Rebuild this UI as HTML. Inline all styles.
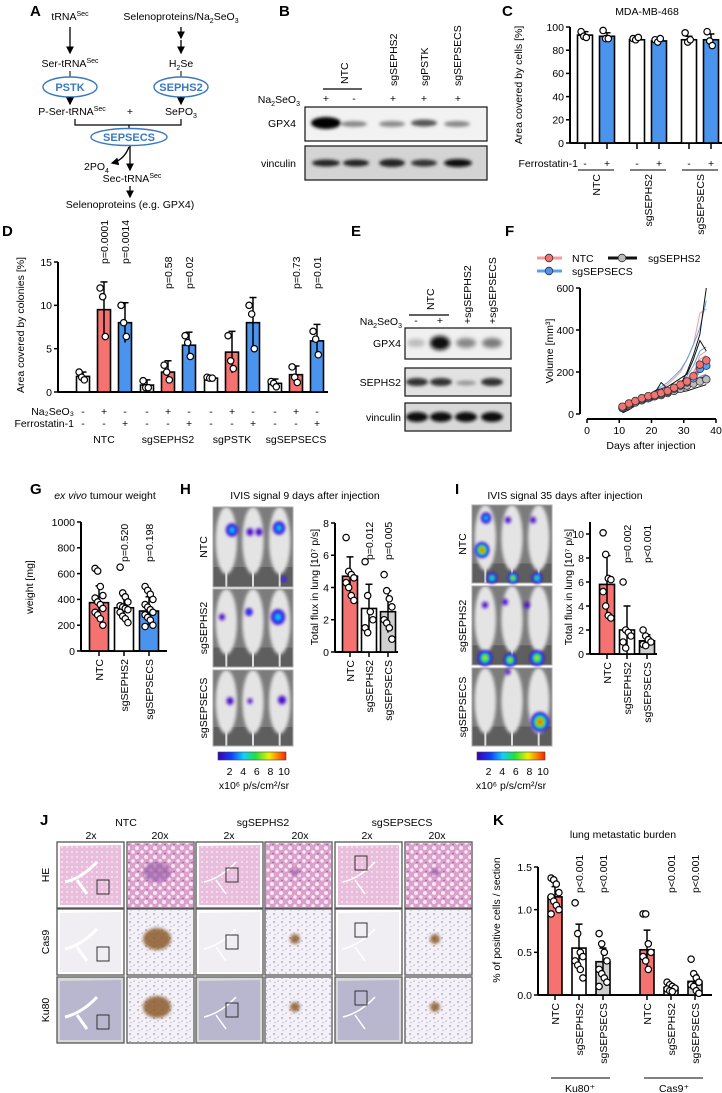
<!DOCTYPE html>
<html><head><meta charset="utf-8">
<style>
body{margin:0;background:#fff}
svg{display:block;font-family:"Liberation Sans",Arial,sans-serif}
.l{font-weight:bold;font-size:15px}
.t{font-size:10.5px}
</style></head><body>
<svg id="fig" xmlns="http://www.w3.org/2000/svg" width="722" height="1093" viewBox="0 0 722 1093">
<defs>
 <marker id="ah" markerWidth="6" markerHeight="6" refX="5" refY="3" orient="auto"><path d="M0,0 L6,3 L0,6 z" fill="#000"/></marker>
 <filter id="b1" x="-50%" y="-50%" width="200%" height="200%"><feGaussianBlur stdDeviation="1.6"/></filter>
 <filter id="b2" x="-50%" y="-50%" width="200%" height="200%"><feGaussianBlur stdDeviation="2.2"/></filter>
 <linearGradient id="cb" x1="0" x2="1" y1="0" y2="0">
  <stop offset="0" stop-color="#3a00b0"/><stop offset="0.2" stop-color="#1040ff"/><stop offset="0.38" stop-color="#10d0ff"/><stop offset="0.55" stop-color="#20e040"/><stop offset="0.75" stop-color="#f0f000"/><stop offset="1" stop-color="#ff2000"/>
 </linearGradient>
 <pattern id="he20" width="9" height="9" patternUnits="userSpaceOnUse"><rect width="9" height="9" fill="#dca0cc"/><circle cx="2" cy="2" r="2" fill="#f6e8f2"/><circle cx="7" cy="6" r="1.7" fill="#f8eef5"/><circle cx="3" cy="7.5" r="0.8" fill="#a05a9c"/></pattern>
 <pattern id="he2" width="5" height="5" patternUnits="userSpaceOnUse"><rect width="5" height="5" fill="#e9bedc"/><circle cx="2" cy="2" r="1" fill="#f5e4ef"/></pattern>
 <pattern id="ihc20" width="8" height="8" patternUnits="userSpaceOnUse"><rect width="8" height="8" fill="#f4f2f7"/><circle cx="2" cy="2" r="0.9" fill="#9a94c4"/><circle cx="6" cy="5" r="0.8" fill="#b4aed4"/><circle cx="3" cy="6.5" r="0.7" fill="#c0bcd8"/></pattern>
</defs>

<!-- Panel A -->
<g class="t">
 <text x="30" y="16" class="l">A</text>
 <text x="70" y="20" text-anchor="middle">tRNA<tspan font-size="7" dy="-4">Sec</tspan></text>
 <text x="181" y="20" text-anchor="middle">Selenoproteins/Na<tspan font-size="7" dy="3">2</tspan><tspan dy="-3">SeO</tspan><tspan font-size="7" dy="3">3</tspan></text>
 <line x1="70" y1="27" x2="70" y2="53" stroke="#000" stroke-width="1.3" marker-end="url(#ah)"/>
 <line x1="181" y1="27" x2="181" y2="38" stroke="#000" stroke-width="1.3" marker-end="url(#ah)"/>
 <line x1="181" y1="40" x2="181" y2="53" stroke="#000" stroke-width="1.3" marker-end="url(#ah)"/>
 <text x="70" y="67" text-anchor="middle">Ser-tRNA<tspan font-size="7" dy="-4">Sec</tspan></text>
 <text x="181" y="67" text-anchor="middle">H<tspan font-size="7" dy="3">2</tspan><tspan dy="-3">Se</tspan></text>
 <line x1="70" y1="71" x2="70" y2="77" stroke="#000"/><line x1="181" y1="71" x2="181" y2="77" stroke="#000"/>
 <ellipse cx="70" cy="87" rx="27" ry="10" fill="#fff" stroke="#3a78c0" stroke-width="1.4"/>
 <text x="70" y="91" text-anchor="middle" font-weight="bold" fill="#3a78c0" font-size="11">PSTK</text>
 <ellipse cx="181" cy="87" rx="27" ry="10" fill="#fff" stroke="#3a78c0" stroke-width="1.4"/>
 <text x="181" y="91" text-anchor="middle" font-weight="bold" fill="#3a78c0" font-size="11">SEPHS2</text>
 <line x1="70" y1="97" x2="70" y2="104" stroke="#000" stroke-width="1.3" marker-end="url(#ah)"/>
 <line x1="181" y1="97" x2="181" y2="104" stroke="#000" stroke-width="1.3" marker-end="url(#ah)"/>
 <text x="72" y="115" text-anchor="middle">P-Ser-tRNA<tspan font-size="7" dy="-4">Sec</tspan></text>
 <text x="130" y="115" text-anchor="middle">+</text>
 <text x="181" y="115" text-anchor="middle">SePO<tspan font-size="7" dy="3">3</tspan></text>
 <path d="M75,119 V125 H181 V119 M129,125 V130" fill="none" stroke="#000" stroke-width="1.2"/>
 <ellipse cx="129" cy="137" rx="38" ry="8.5" fill="#fff" stroke="#3a78c0" stroke-width="1.4"/>
 <text x="129" y="141" text-anchor="middle" font-weight="bold" fill="#3a78c0" font-size="11">SEPSECS</text>
 <line x1="130" y1="146" x2="130" y2="170" stroke="#000" stroke-width="1.3" marker-end="url(#ah)"/>
 <path d="M129,147 Q124,160 112,163" fill="none" stroke="#000" stroke-width="1.3" marker-end="url(#ah)"/>
 <text x="84" y="170">2PO<tspan font-size="7" dy="3">4</tspan></text>
 <text x="132" y="182" text-anchor="middle">Sec-tRNA<tspan font-size="7" dy="-4">Sec</tspan></text>
 <line x1="130" y1="186" x2="130" y2="197" stroke="#000" stroke-width="1.3" marker-end="url(#ah)"/>
 <text x="130" y="208" text-anchor="middle">Selenoproteins (e.g. GPX4)</text>
</g>

<!-- Panel B -->
<g class="t">
 <text x="279" y="16" class="l">B</text>
 <text transform="translate(348,84) rotate(-90)">NTC</text>
 <line x1="323" y1="89" x2="362" y2="89" stroke="#000" stroke-width="1.2"/>
 <text transform="translate(397,86) rotate(-90)">sgSEPHS2</text>
 <text transform="translate(428,86) rotate(-90)">sgPSTK</text>
 <text transform="translate(461,86) rotate(-90)">sgSEPSECS</text>
 <text x="300" y="103" text-anchor="end">Na<tspan font-size="7" dy="3">2</tspan><tspan dy="-3">SeO</tspan><tspan font-size="7" dy="3">3</tspan></text>
 <text x="326" y="102" text-anchor="middle">+</text><text x="354" y="102" text-anchor="middle">-</text><text x="393" y="102" text-anchor="middle">+</text><text x="424" y="102" text-anchor="middle">+</text><text x="458" y="102" text-anchor="middle">+</text>
 <rect x="305" y="107" width="182" height="34" fill="#f2f2f2" stroke="#222" stroke-width="1.3"/>
 <g filter="url(#b1)"><ellipse cx="326" cy="123" rx="15" ry="6" fill="#000"/><ellipse cx="354" cy="124" rx="13" ry="3" fill="#888"/><ellipse cx="392" cy="124" rx="13" ry="3" fill="#8a8a8a"/><ellipse cx="424" cy="123" rx="13" ry="3.5" fill="#555"/><ellipse cx="457" cy="124" rx="13" ry="3" fill="#888"/></g>
 <text x="296" y="127" text-anchor="end">GPX4</text>
 <rect x="305" y="146" width="182" height="34" fill="#d4d4d4" stroke="#222" stroke-width="1.3"/>
 <g filter="url(#b1)"><ellipse cx="326" cy="163" rx="14" ry="3.5" fill="#222"/><ellipse cx="356" cy="163" rx="13" ry="3.5" fill="#222"/><ellipse cx="392" cy="163" rx="13" ry="4" fill="#222"/><ellipse cx="424" cy="163" rx="13" ry="3.5" fill="#333"/><ellipse cx="458" cy="163" rx="14" ry="4" fill="#111"/></g>
 <text x="296" y="167" text-anchor="end">vinculin</text>
</g>

<!-- Panel E -->
<g class="t">
 <text x="351" y="236" class="l">E</text>
 <text transform="translate(434,310) rotate(-90)">NTC</text>
 <line x1="409" y1="315" x2="449" y2="315" stroke="#000" stroke-width="1.2"/>
 <text transform="translate(471,324) rotate(-90)">+sgSEPHS2</text>
 <text transform="translate(496,324) rotate(-90)">+sgSEPSECS</text>
 <text x="402" y="325" text-anchor="end">Na<tspan font-size="7" dy="3">2</tspan><tspan dy="-3">SeO</tspan><tspan font-size="7" dy="3">3</tspan></text>
 <text x="416" y="324" text-anchor="middle">-</text><text x="440" y="324" text-anchor="middle">+</text>
 <rect x="405" y="328" width="106" height="31" fill="#f0f0f0" stroke="#222" stroke-width="1.3"/>
 <g filter="url(#b2)"><ellipse cx="416" cy="343" rx="9" ry="4" fill="#bbb"/><ellipse cx="440" cy="343" rx="10" ry="7" fill="#111"/><ellipse cx="466" cy="343" rx="10" ry="5" fill="#888"/><ellipse cx="492" cy="343" rx="10" ry="5" fill="#7a7a7a"/></g>
 <text x="401" y="347" text-anchor="end">GPX4</text>
 <rect x="405" y="368" width="106" height="28" fill="#e2e2e2" stroke="#222" stroke-width="1.3"/>
 <g filter="url(#b1)"><ellipse cx="417" cy="382" rx="11" ry="4" fill="#333"/><ellipse cx="441" cy="382" rx="11" ry="4" fill="#333"/><ellipse cx="466" cy="383" rx="10" ry="2.5" fill="#999"/><ellipse cx="492" cy="382" rx="11" ry="4" fill="#333"/></g>
 <text x="401" y="386" text-anchor="end">SEPHS2</text>
 <rect x="405" y="403" width="106" height="28" fill="#d8d8d8" stroke="#222" stroke-width="1.3"/>
 <g filter="url(#b1)"><ellipse cx="417" cy="417" rx="11" ry="5" fill="#111"/><ellipse cx="441" cy="417" rx="11" ry="5" fill="#111"/><ellipse cx="466" cy="417" rx="11" ry="5" fill="#111"/><ellipse cx="492" cy="417" rx="11" ry="5" fill="#111"/></g>
 <text x="401" y="421" text-anchor="end">vinculin</text>
</g>

<!-- Panel labels / titles -->
<g class="t">
 <text x="502" y="16" class="l">C</text>
 <text x="647" y="15" text-anchor="middle">MDA-MB-468</text>
 <text x="2" y="236" class="l">D</text>
 <text x="505" y="236" class="l">F</text>
 <text x="30" y="494" class="l">G</text>
 <text x="105" y="499" text-anchor="middle"><tspan font-style="italic">ex vivo</tspan> tumour weight</text>
 <text x="180" y="494" class="l">H</text>
 <text x="305" y="499" text-anchor="middle">IVIS signal 9 days after injection</text>
 <text x="455" y="494" class="l">I</text>
 <text x="565" y="499" text-anchor="middle">IVIS signal 35 days after injection</text>
 <text x="40" y="825" class="l">J</text>
 <text x="493" y="825" class="l">K</text>
 <text x="623" y="838" text-anchor="middle">lung metastatic burden</text>
</g>

<!-- Panel J histology -->
<g id="histo" class="t">
 <text x="126" y="826" text-anchor="middle">NTC</text>
 <text x="263" y="826" text-anchor="middle">sgSEPHS2</text>
 <text x="402" y="826" text-anchor="middle">sgSEPSECS</text>
 <text x="91" y="839" text-anchor="middle">2x</text><text x="160" y="839" text-anchor="middle">20x</text>
 <text x="229" y="839" text-anchor="middle">2x</text><text x="300" y="839" text-anchor="middle">20x</text>
 <text x="367" y="839" text-anchor="middle">2x</text><text x="437" y="839" text-anchor="middle">20x</text>
 <text transform="translate(49,875) rotate(-90)" text-anchor="middle">HE</text>
 <text transform="translate(49,942) rotate(-90)" text-anchor="middle">Cas9</text>
 <text transform="translate(49,1010) rotate(-90)" text-anchor="middle">Ku80</text>
</g>

<g id="charts"></g>
</svg>
<script>
// ---------- chart data ----------
const cCats = ['NTC','sgSEPHS2','sgSEPSECS'];
const cVals = [93, 92, 89, 88, 89, 89];
const cErr = [3, 3, 1, 1, 3, 5];
const cPts = [[96,92,91],[97,90,90],[90,89,91],[89,87,90],[95,87,89],[96,88,84]];
const cTicks = [0, 20, 40, 60, 80, 100];

const dCats = ['NTC','sgSEPHS2','sgPSTK','sgSEPSECS'];
const dVals = [1.8, 9.5, 8.0, 0.8, 2.3, 5.4, 1.6, 4.6, 8.0, 1.0, 2.0, 5.9];
const dErr = [0.5, 3.2, 2.3, 0.6, 1.3, 1.5, 0.1, 2.4, 2.9, 0.5, 1.0, 1.9];
const dPts = [[2.3,1.7,1.4],[12,11,6.4],[10,8,6.4],[1.3,0.5,0.5],[3.1,2.3,1.4],[6.5,5.7,4.1],[1.7,1.6,1.6],[6.5,3.6,2.7],[10,9,5],[1.2,1.0,0.6],[2.9,1.7,1.1],[7.0,6.1,4.3]];
const dTicks = [0, 5, 10, 15];
const dPvals = ['', 'p=0.0001', 'p=0.0014', '', 'p=0.58', 'p=0.02', '', '', '', '', 'p=0.73', 'p=0.01'];

const fDays = [11,13,15,17,19,21,23,25,27,29,31,33,35,37];
const fNtcMean = [35,50,62,75,85,90,100,110,125,140,155,180,235,255];
const fSephs2Mean = [28,40,55,65,75,85,90,100,110,120,135,145,155,165];
const fSepsecsMean = [30,45,55,70,80,85,95,105,120,135,150,170,215,230];
const fNtcLines = [[20,40,60,80,90,110,120,140,170,200,260,330,480,500],[30,45,55,70,80,90,100,110,120,140,160,190,280,300],[40,55,70,80,95,100,110,120,130,150,170,200,260,280],[25,40,50,65,75,80,85,95,105,115,130,150,180,190],[35,50,65,75,85,90,100,110,120,135,150,170,210,230]];
const fSephs2Lines = [[10,30,50,60,80,100,150,120,130,140,200,280,380,600],[20,35,45,60,70,80,90,100,110,120,130,140,150,160],[15,25,40,55,60,70,80,90,100,105,110,120,130,140],[25,45,55,70,90,110,120,130,150,170,190,260,350,300],[5,20,40,60,75,90,100,110,120,130,140,150,170,180]];
const fSepsecsLines = [[30,45,55,70,90,110,130,150,180,210,260,330,410,540],[20,35,50,60,75,85,95,105,115,125,135,150,175,190],[25,40,50,60,70,80,95,100,110,120,140,160,200,220],[35,50,65,75,85,95,110,120,130,150,180,230,300,320]];
const fYTicks = [0, 200, 400, 600];
const fXTicks = [0, 10, 20, 30, 40];

const gCats = ['NTC','sgSEPHS2','sgSEPSECS'];
const gVals = [375, 335, 310];
const gErr = [130, 90, 110];
const gPts = [[640,620,500,430,410,380,360,330,300,280,250,200],[650,450,420,380,350,340,330,320,300,270,250,220],[500,470,440,400,360,340,320,300,280,260,240,200,190]];
const gTicks = [0, 200, 400, 600, 800, 1000];
const gPvals = ['', 'p=0.520', 'p=0.198'];

const hCats = ['NTC','sgSEPHS2','sgSEPSECS'];
const hVals = [4.7, 2.7, 2.5];
const hErr = [1.2, 1.5, 1.3];
const hPts = [[7.1,5.0,4.8,4.6,4.3,4.0,3.5,3.2],[5.6,3.5,2.5,2.0,1.5,1.2],[4.8,3.8,3.3,2.8,2.0,1.8,1.5,0.8]];
const hTicks = [0, 2, 4, 6, 8];
const hPvals = ['', 'p=0.012', 'p=0.005'];

const iCats = ['NTC','sgSEPHS2','sgSEPSECS'];
const iVals = [5.8, 2.0, 1.1];
const iErr = [2.4, 2.0, 0.5];
const iPts = [[10.1,8.3,6.3,6.2,5.2,4.0,3.2,3.0],[6.0,2.0,1.8,1.5,1.0,0.5],[2.0,1.5,1.2,1.0,0.8,0.7]];
const iTicks = [0, 2, 4, 6, 8, 10];
const iPvals = ['', 'p=0.002', 'p<0.001'];

const kCats = ['NTC','sgSEPHS2','sgSEPSECS','NTC','sgSEPHS2','sgSEPSECS'];
const kVals = [1.15, 0.55, 0.39, 0.53, 0.09, 0.16];
const kErr = [0.12, 0.28, 0.16, 0.23, 0.03, 0.08];
const kPts = [[1.37,1.35,1.3,1.2,1.15,1.1,1.05,1.0,0.95],[1.08,0.72,0.5,0.45,0.4,0.35,0.3,0.2],[0.72,0.6,0.5,0.4,0.3,0.25,0.2,0.15,0.1],[0.95,0.95,0.6,0.5,0.45,0.4,0.3],[0.15,0.12,0.1,0.08,0.07,0.05,0.04],[0.42,0.25,0.2,0.15,0.12,0.1,0.05,0.02]];
const kTicks = [0, 0.5, 1.0, 1.5];
const kTickLabels = ['0.0','0.5','1.0','1.5'];
const kPvals = ['', 'p<0.001', 'p<0.001', '', 'p<0.001', 'p<0.001'];

// ---------- helpers ----------
const NS = 'http://www.w3.org/2000/svg';
const root = document.getElementById('charts');
const RED = '#f47370', BLUE = '#4a94ee', GREY = '#cfcfcf', WHITE = '#ffffff';
function mk(tag, attrs, name, parent) {
  const el = document.createElementNS(NS, tag);
  for (const k in attrs) el.setAttribute(k, attrs[k]);
  
  
  (parent || root).appendChild(el);
  return el;
}
function txt(x, y, s, anchor, name, rot, size) {
  const a = {x: 0, y: 0, 'font-size': size || 10.5, 'text-anchor': anchor || 'start'};
  a.transform = 'translate(' + x + ',' + y + ')' + (rot ? ' rotate(' + rot + ')' : '');
  const el = mk('text', a, name);
  el.textContent = s;
  return el;
}
function lin(d0, d1, r0, r1) { return v => r0 + (v - d0) * (r1 - r0) / (d1 - d0); }
function yAxis(x, ys, ticks, labels, name) {
  mk('line', {x1: x, x2: x, y1: ys(ticks[0]), y2: ys(ticks[ticks.length - 1]), stroke: '#000', 'stroke-width': 2}, name + '-line');
  ticks.forEach((t, i) => {
    mk('line', {x1: x - 4, x2: x, y1: ys(t), y2: ys(t), stroke: '#000', 'stroke-width': 1.5}, name + '-tick');
    txt(x - 6, ys(t) + 3.8, labels ? labels[i] : String(t), 'end', name + '-label');
  });
}
function bars(cx, vals, errs, pts, colors, w, ys, name) {
  vals.forEach((v, i) => {
    const x = cx(i);
    mk('rect', {x: x - w / 2, y: ys(v), width: w, height: ys(0) - ys(v), fill: colors[i % colors.length], stroke: '#000', 'stroke-width': 1.6}, name + '-bar');
    const top = ys(v + errs[i]), bot = ys(Math.max(0, v - errs[i]));
    mk('line', {x1: x, x2: x, y1: top, y2: bot, stroke: '#000', 'stroke-width': 1.5}, name + '-error-bar');
    mk('line', {x1: x - 3.5, x2: x + 3.5, y1: top, y2: top, stroke: '#000', 'stroke-width': 1.5}, name + '-error-cap');
    pts[i].forEach((p, j) => {
      const dx = ((j % 4) - 1.5) * 2.6;
      mk('circle', {cx: x + dx, cy: ys(p), r: 3.2, fill: '#fff', stroke: '#000', 'stroke-width': 1.2}, name + '-point');
    });
  });
}

// ---------- Panel C ----------
const cY = lin(0, 100, 143, 27);
const cX = i => 585 + Math.floor(i / 2) * 52 + (i % 2) * 22;
yAxis(570, cY, cTicks, null, 'c-y-axis');
mk('line', {x1: 570, x2: 722, y1: 143, y2: 143, stroke: '#000', 'stroke-width': 2}, 'c-x-axis');
bars(cX, cVals, cErr, cPts, [WHITE, BLUE], 15, cY, 'c');
cVals.forEach((v, i) => {
  mk('line', {x1: cX(i), x2: cX(i), y1: 143, y2: 149, stroke: '#000', 'stroke-width': 1.5}, 'c-x-tick');
  txt(cX(i), 167, i % 2 ? '+' : '-', 'middle', 'c-ferrostatin-sign');
});
txt(578, 167, 'Ferrostatin-1', 'end', 'c-ferrostatin-label');
cCats.forEach((c, g) => {
  const m = (cX(2 * g) + cX(2 * g + 1)) / 2;
  mk('line', {x1: m - 18, x2: m + 18, y1: 170, y2: 170, stroke: '#000', 'stroke-width': 1}, 'c-group-line');
  txt(m + 4, 174, c, 'end', 'c-group-label', -90);
});
txt(522, 85, 'Area covered by cells [%]', 'middle', 'c-y-axis-title', -90);

// ---------- Panel D ----------
const dY = lin(0, 15, 392, 262);
const dX = i => 83 + Math.floor(i / 3) * 64 + (i % 3) * 21;
yAxis(58, dY, dTicks, null, 'd-y-axis');
mk('line', {x1: 58, x2: 328, y1: 392, y2: 392, stroke: '#000', 'stroke-width': 2}, 'd-x-axis');
bars(dX, dVals, dErr, dPts, [WHITE, RED, BLUE], 13, dY, 'd');
dVals.forEach((v, i) => {
  txt(dX(i), 415, i % 3 === 1 ? '+' : '-', 'middle', 'd-na2seo3-sign');
  txt(dX(i), 427, i % 3 === 2 ? '+' : '-', 'middle', 'd-ferrostatin-sign');
  if (dPvals[i]) txt(dX(i) + 4, i < 3 ? 264 : 289, dPvals[i], 'start', 'd-p-value', -90);
});
txt(74, 415, 'Na₂SeO₃', 'end', 'd-na2seo3-label');
txt(74, 427, 'Ferrostatin-1', 'end', 'd-ferrostatin-label');
dCats.forEach((c, g) => txt(dX(3 * g + 1), 443, c, 'middle', 'd-group-label'));
txt(24, 325, 'Area covered by colonies [%]', 'middle', 'd-y-axis-title', -90);

// ---------- Panel F ----------
const fY = lin(0, 600, 414, 288);
const fX = lin(0, 40, 587, 716);
yAxis(580, fY, fYTicks, null, 'f-y-axis');
mk('line', {x1: fX(0), x2: fX(40), y1: 419, y2: 419, stroke: '#000', 'stroke-width': 2}, 'f-x-axis');
fXTicks.forEach(t => {
  mk('line', {x1: fX(t), x2: fX(t), y1: 419, y2: 423, stroke: '#000', 'stroke-width': 1.5}, 'f-x-tick');
  txt(fX(t), 434, String(t), 'middle', 'f-x-tick-label');
});
txt(651, 449, 'Days after injection', 'middle', 'f-x-axis-title');
txt(553, 351, 'Volume [mm³]', 'middle', 'f-y-axis-title', -90);
function fPath(arr) { return arr.map((v, i) => (i ? 'L' : 'M') + fX(fDays[i]).toFixed(1) + ',' + fY(v).toFixed(1)).join(' '); }
fNtcLines.forEach(a => mk('path', {d: fPath(a), fill: 'none', stroke: '#f79a97', 'stroke-width': 1}, 'f-ntc-individual-line'));
fSepsecsLines.forEach(a => mk('path', {d: fPath(a), fill: 'none', stroke: '#5aa0f0', 'stroke-width': 1}, 'f-sgsepsecs-individual-line'));
fSephs2Lines.forEach(a => mk('path', {d: fPath(a), fill: 'none', stroke: '#111', 'stroke-width': 1}, 'f-sgsephs2-individual-line'));
[[fSephs2Mean, '#222', '#bbb', 'sgsephs2'], [fSepsecsMean, '#2f7de0', '#5aa0f0', 'sgsepsecs'], [fNtcMean, '#e05050', '#f47370', 'ntc']].forEach(s => {
  mk('path', {d: fPath(s[0]), fill: 'none', stroke: s[1], 'stroke-width': 1.5}, 'f-' + s[3] + '-mean-line');
  s[0].forEach((v, i) => mk('circle', {cx: fX(fDays[i]), cy: fY(v), r: 3.8, fill: s[2], stroke: '#333', 'stroke-width': 0.8}, 'f-' + s[3] + '-point'));
});
mk('line', {x1: 537, x2: 562, y1: 258, y2: 258, stroke: '#f79a97', 'stroke-width': 3}, 'f-legend-ntc-swatch');
mk('circle', {cx: 549, cy: 258, r: 3.8, fill: RED, stroke: '#333', 'stroke-width': 0.8}, 'f-legend-ntc-marker');
txt(572, 262, 'NTC', 'start', 'f-legend-ntc-label');
mk('line', {x1: 608, x2: 637, y1: 258, y2: 258, stroke: '#111', 'stroke-width': 3}, 'f-legend-sgsephs2-swatch');
mk('circle', {cx: 622, cy: 258, r: 3.8, fill: '#bbb', stroke: '#333', 'stroke-width': 0.8}, 'f-legend-sgsephs2-marker');
txt(648, 262, 'sgSEPHS2', 'start', 'f-legend-sgsephs2-label');
mk('line', {x1: 537, x2: 562, y1: 271, y2: 271, stroke: '#5aa0f0', 'stroke-width': 3}, 'f-legend-sgsepsecs-swatch');
mk('circle', {cx: 549, cy: 271, r: 3.8, fill: BLUE, stroke: '#333', 'stroke-width': 0.8}, 'f-legend-sgsepsecs-marker');
txt(572, 275, 'sgSEPSECS', 'start', 'f-legend-sgsepsecs-label');

// ---------- Panel G ----------
const gY = lin(0, 1000, 651, 522);
const gX = i => 99 + i * 25;
yAxis(81, gY, gTicks, null, 'g-y-axis');
mk('line', {x1: 81, x2: 167, y1: 651, y2: 651, stroke: '#000', 'stroke-width': 2}, 'g-x-axis');
bars(gX, gVals, gErr, gPts, [RED, WHITE, BLUE], 19, gY, 'g');
gCats.forEach((c, i) => {
  mk('line', {x1: gX(i), x2: gX(i), y1: 651, y2: 656, stroke: '#000', 'stroke-width': 1.5}, 'g-x-tick');
  txt(gX(i) + 4, 659, c, 'end', 'g-category-label', -90);
  if (gPvals[i]) txt(gX(i) + 4, 562, gPvals[i], 'start', 'g-p-value', -90);
});
txt(33, 587, 'weight  [mg]', 'middle', 'g-y-axis-title', -90);

// ---------- Panel H ----------
const hY = lin(0, 8, 652, 523);
const hX = i => 350 + i * 19;
yAxis(335, hY, hTicks, null, 'h-y-axis');
mk('line', {x1: 335, x2: 398, y1: 652, y2: 652, stroke: '#000', 'stroke-width': 2}, 'h-x-axis');
bars(hX, hVals, hErr, hPts, [RED, WHITE, GREY], 15, hY, 'h');
hCats.forEach((c, i) => {
  mk('line', {x1: hX(i), x2: hX(i), y1: 652, y2: 657, stroke: '#000', 'stroke-width': 1.5}, 'h-x-tick');
  txt(hX(i) + 4, 660, c, 'end', 'h-category-label', -90);
  if (hPvals[i]) txt(hX(i) + 4, 560, hPvals[i], 'start', 'h-p-value', -90);
});
txt(318, 587, 'Total flux in lung [10⁷ p/s]', 'middle', 'h-y-axis-title', -90);

// ---------- Panel I ----------
const iY = lin(0, 10, 654, 534);
const iX = i => 607 + i * 20;
yAxis(590, iY, iTicks, null, 'i-y-axis');
mk('line', {x1: 590, x2: iY(11) ? 590 : 590, y1: 654, y2: iY(11), stroke: '#000', 'stroke-width': 2}, 'i-y-axis-extension');
mk('line', {x1: 590, x2: 657, y1: 654, y2: 654, stroke: '#000', 'stroke-width': 2}, 'i-x-axis');
bars(iX, iVals, iErr, iPts, [RED, WHITE, GREY], 15, iY, 'i');
iCats.forEach((c, i) => {
  mk('line', {x1: iX(i), x2: iX(i), y1: 654, y2: 659, stroke: '#000', 'stroke-width': 1.5}, 'i-x-tick');
  txt(iX(i) + 4, 662, c, 'end', 'i-category-label', -90);
  if (iPvals[i]) txt(iX(i) + 4, 563, iPvals[i], 'start', 'i-p-value', -90);
});
txt(572, 587, 'Total flux in lung [10⁷ p/s]', 'middle', 'i-y-axis-title', -90);

// ---------- Panel K ----------
const kY = lin(0, 1.5, 995, 867);
const kX = i => 555 + (i % 3) * 24 + Math.floor(i / 3) * 92;
yAxis(538, kY, kTicks, kTickLabels, 'k-y-axis');
mk('line', {x1: 538, x2: 712, y1: 995, y2: 995, stroke: '#000', 'stroke-width': 2}, 'k-x-axis');
bars(kX, kVals, kErr, kPts, [RED, WHITE, GREY], 14, kY, 'k');
kCats.forEach((c, i) => {
  mk('line', {x1: kX(i), x2: kX(i), y1: 995, y2: 1000, stroke: '#000', 'stroke-width': 1.5}, 'k-x-tick');
  txt(kX(i) + 4, 1003, c, 'end', 'k-category-label', -90);
  if (kPvals[i]) txt(kX(i) + 4, 893, kPvals[i], 'start', 'k-p-value', -90);
});
mk('line', {x1: 551, x2: 610, y1: 1078, y2: 1078, stroke: '#000', 'stroke-width': 1}, 'k-ku80-bracket');
mk('line', {x1: 644, x2: 703, y1: 1078, y2: 1078, stroke: '#000', 'stroke-width': 1}, 'k-cas9-bracket');
txt(580, 1092, 'Ku80⁺', 'middle', 'k-ku80-group-label');
txt(674, 1092, 'Cas9⁺', 'middle', 'k-cas9-group-label');
txt(500, 920, '% of positive cells / section', 'middle', 'k-y-axis-title', -90);

// ---------- IVIS images (decorative) ----------
function blob(x, y, r, lvl, name) {
  const cols = ['#4a10c8', '#1a50ff', '#10c8f0', '#30e040', '#f0e000', '#ff2a00'];
  for (let k = 0; k <= lvl; k++) {
    mk('ellipse', {cx: x, cy: y, rx: r * (1 - k / (lvl + 1.5)), ry: r * 1.1 * (1 - k / (lvl + 1.5)), fill: cols[k], filter: 'url(#b1)'}, name);
  }
}
function mice(x, y, w, h, name) {
  mk('rect', {x: x, y: y, width: w, height: h, fill: '#5e5e5e'}, name + '-background');
  mk('rect', {x: x, y: y, width: w, height: h * 0.75, fill: '#7c7c7c'}, name + '-background-top');
  for (let m = 0; m < 3; m++) {
    const cx = x + w * (m + 0.5) / 3;
    mk('ellipse', {cx: cx, cy: y + h * 0.42, rx: w / 7.5, ry: h * 0.42, fill: '#e4e4e4', filter: 'url(#b1)'}, name + '-mouse');
    mk('rect', {x: cx - 1, y: y + h * 0.8, width: 2, height: h * 0.2, fill: '#ddd'}, name + '-tail');
  }
  mk('rect', {x: x, y: y, width: w, height: h, fill: 'none', stroke: '#aaa', 'stroke-width': 1}, name + '-frame');
}
[[213, 507, 80, 80], [213, 589, 80, 78], [213, 670, 80, 76]].forEach((r, k) => mice(r[0], r[1], r[2], r[3], 'h-mice-row-' + k));
[[472, 505, 80, 78], [472, 586, 80, 79], [472, 668, 80, 78]].forEach((r, k) => mice(r[0], r[1], r[2], r[3], 'i-mice-row-' + k));
blob(232, 530, 6, 2, 'h-signal'); blob(250, 532, 3.5, 0, 'h-signal'); blob(259, 532, 3.5, 0, 'h-signal'); blob(279, 528, 6, 2, 'h-signal'); blob(284, 579, 2.5, 1, 'h-signal');
blob(222, 617, 3, 0, 'h-signal'); blob(249, 612, 3.5, 1, 'h-signal'); blob(278, 617, 7, 2, 'h-signal');
blob(230, 701, 3.5, 0, 'h-signal'); blob(250, 701, 2.5, 0, 'h-signal'); blob(282, 700, 4, 0, 'h-signal');
blob(486, 518, 5, 2, 'i-signal'); blob(508, 520, 3, 0, 'i-signal'); blob(533, 520, 3, 0, 'i-signal'); blob(482, 550, 7, 5, 'i-signal');
blob(492, 578, 5, 3, 'i-signal'); blob(513, 578, 5, 4, 'i-signal'); blob(537, 578, 5, 3, 'i-signal');
blob(485, 605, 3, 0, 'i-signal'); blob(505, 602, 3, 0, 'i-signal'); blob(527, 605, 3, 0, 'i-signal');
blob(485, 658, 7, 4, 'i-signal'); blob(510, 660, 6, 4, 'i-signal'); blob(537, 658, 7, 4, 'i-signal');
blob(508, 672, 2.5, 0, 'i-signal'); blob(540, 722, 9, 5, 'i-signal');
[[218, 286, 254], [477, 545, 511]].forEach((c, k) => {
  mk('rect', {x: c[0], y: 752, width: c[1] - c[0], height: 8, fill: 'url(#cb)', stroke: '#444', 'stroke-width': 0.6}, 'colorbar-' + k);
  [2, 4, 6, 8, 10].forEach(v => txt(c[0] + (c[1] - c[0]) * v / 10 - 2, 775, String(v), 'middle', 'colorbar-tick-label'));
  txt(c[2], 789, 'x10⁶ p/s/cm²/sr', 'middle', 'colorbar-unit');
});
txt(207, 547, 'NTC', 'middle', 'h-row-label', -90);
txt(207, 628, 'sgSEPHS2', 'middle', 'h-row-label', -90);
txt(207, 708, 'sgSEPSECS', 'middle', 'h-row-label', -90);
txt(466, 544, 'NTC', 'middle', 'i-row-label', -90);
txt(466, 626, 'sgSEPHS2', 'middle', 'i-row-label', -90);
txt(466, 707, 'sgSEPSECS', 'middle', 'i-row-label', -90);

// ---------- Histology tiles (decorative) ----------
const hc = [57, 127, 196, 265, 335, 405], hr = [842, 909, 977];
hr.forEach((y, r) => hc.forEach((x, c) => {
  const two = c % 2 === 0;
  let bg = '#fff', fill;
  if (r === 0) fill = two ? 'url(#he2)' : 'url(#he20)';
  else if (r === 1) fill = two ? '#f0eef3' : 'url(#ihc20)';
  else { bg = two ? '#d9d9d9' : '#fff'; fill = two ? '#b9b6cf' : 'url(#ihc20)'; }
  mk('rect', {x: x, y: y, width: 67, height: 66, fill: bg, stroke: '#555', 'stroke-width': 1.3}, 'histology-tile');
  if (two) {
    mk('path', {d: 'M' + (x + 3) + ',' + (y + 4) + ' L' + (x + 64) + ',' + (y + 3) + ' L' + (x + 64) + ',' + (y + 63) + ' L' + (x + 3) + ',' + (y + 63) + ' Z', fill: fill}, 'histology-lung-section');
    mk('path', {d: 'M' + (x + 8) + ',' + (y + 40) + ' Q' + (x + 25) + ',' + (y + 36) + ' ' + (x + 40) + ',' + (y + 20) + ' M' + (x + 20) + ',' + (y + 38) + ' L' + (x + 30) + ',' + (y + 52), fill: 'none', stroke: '#fff', 'stroke-width': c === 0 ? 3 : 1.5}, 'histology-airway');
    mk('rect', {x: x + 40 - c * 5, y: y + 38 - c * 6, width: 12, height: 14, fill: 'none', stroke: '#333', 'stroke-width': 1}, 'histology-zoom-box');
  } else {
    mk('rect', {x: x + 1, y: y + 1, width: 65, height: 64, fill: fill}, 'histology-20x-field');
    if (r === 0) mk('ellipse', {cx: x + 30, cy: y + 30, rx: c === 1 ? 14 : 5, ry: c === 1 ? 10 : 4, fill: '#9a5ea8', opacity: 0.7, filter: 'url(#b1)'}, 'histology-metastasis');
    else mk('ellipse', {cx: x + 30, cy: y + 30, rx: c === 1 ? 14 : 5, ry: c === 1 ? 11 : 5, fill: '#8a5a2a', opacity: 0.85, filter: 'url(#b1)'}, 'histology-metastasis');
  }
}));
</script>
</body></html>
